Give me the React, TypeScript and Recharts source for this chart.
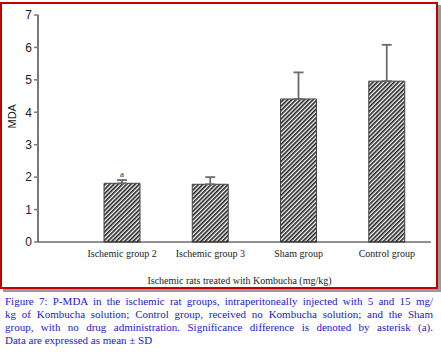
import React from "react";
import { BarChart, Bar, XAxis, YAxis, ErrorBar, LabelList } from "recharts";

// Groups along the x axis
const GROUPS = ["Ischemic group 2", "Ischemic group 3", "Sham group", "Control group"];

// Mean MDA values and SD (upper error only)
const MEANS = [1.81, 1.78, 4.41, 4.96];
const SDS = [0.1, 0.22, 0.82, 1.12];

// Significance marks above bars
const MARKS = ["a", "", "", ""];

const Y_TICKS = [0, 1, 2, 3, 4, 5, 6, 7];

const CAPTION_LINES = [
  "Figure 7: P-MDA in the ischemic rat groups, intraperitoneally injected with 5 and 15 mg/",
  "kg of Kombucha solution; Control group, received no Kombucha solution; and the Sham",
  "group, with no drug administration. Significance difference is denoted by asterisk (a).",
  "Data are expressed as mean ± SD",
];

const data = GROUPS.map((name, i) => ({
  name,
  mda: MEANS[i],
  err: [0, SDS[i]],
  mark: MARKS[i],
}));

const serif = '"Liberation Serif", "Times New Roman", serif';
const sans = '"Liberation Sans", Arial, sans-serif';

export default function App() {
  return (
    <div style={{ position: "absolute", left: 0, top: 0, width: 441, height: 354, background: "#fff" }}>
      {/* red frame with grey shadow */}
      <div
        style={{
          position: "absolute",
          left: 0,
          top: 2,
          width: 438,
          height: 287,
          boxSizing: "border-box",
          border: "2px solid #c00000",
          boxShadow: "3px 3px 0 #9a9a9a",
        }}
      />
      <div style={{ position: "absolute", left: 0, top: 0 }}>
        <BarChart
          width={441}
          height={290}
          data={data}
          margin={{ top: 15, right: 10, bottom: 0, left: 0 }}
          barSize={36}
        >
          <defs>
            <pattern id="hatch" patternUnits="userSpaceOnUse" width={3} height={3} patternTransform="rotate(45)">
              <rect width={3} height={3} fill="#fff" />
              <line x1={0.8} y1={0} x2={0.8} y2={3} stroke="#222" strokeWidth={1.7} />
            </pattern>
          </defs>
          <YAxis
            type="number"
            domain={[0, 7]}
            ticks={Y_TICKS}
            width={38}
            axisLine={{ stroke: "#7a7a7a", strokeWidth: 2 }}
            tickLine={{ stroke: "#7a7a7a", strokeWidth: 1.5 }}
            tickSize={4}
            tick={{ fill: "#222", fontSize: 12, fontFamily: sans }}
            label={{ value: "MDA", angle: -90, position: "insideLeft", offset: 12, fill: "#222", fontSize: 11, fontFamily: sans }}
          />
          <XAxis
            dataKey="name"
            height={48}
            padding={{ left: 40, right: 0 }}
            axisLine={{ stroke: "#222", strokeWidth: 1 }}
            tickLine={false}
            interval={0}
            tick={{ fill: "#222", fontSize: 10, fontFamily: serif }}
            label={{ value: "Ischemic rats treated with Kombucha (mg/kg)", position: "insideBottom", offset: 6, dx: 5, fill: "#222", fontSize: 10, fontFamily: serif }}
          />
          <Bar dataKey="mda" fill="url(#hatch)" stroke="#444" strokeWidth={1} isAnimationActive={false}>
            <ErrorBar dataKey="err" width={5} stroke="#6a6a6a" strokeWidth={1.8} direction="y" />
            <LabelList dataKey="mark" position="top" offset={6} fill="#222" fontSize={9} fontFamily={serif} />
          </Bar>
        </BarChart>
      </div>
      {/* caption */}
      <div
        style={{
          position: "absolute",
          left: 5,
          top: 295,
          width: 428,
          fontFamily: serif,
          fontSize: 11,
          lineHeight: "13px",
          color: "#2020c8",
        }}
      >
        {CAPTION_LINES.map((line, i) => (
          <div
            key={i}
            style={{
              textAlign: "justify",
              textAlignLast: i < CAPTION_LINES.length - 1 ? "justify" : "left",
              whiteSpace: "nowrap",
            }}
          >
            {line}
          </div>
        ))}
      </div>
    </div>
  );
}
